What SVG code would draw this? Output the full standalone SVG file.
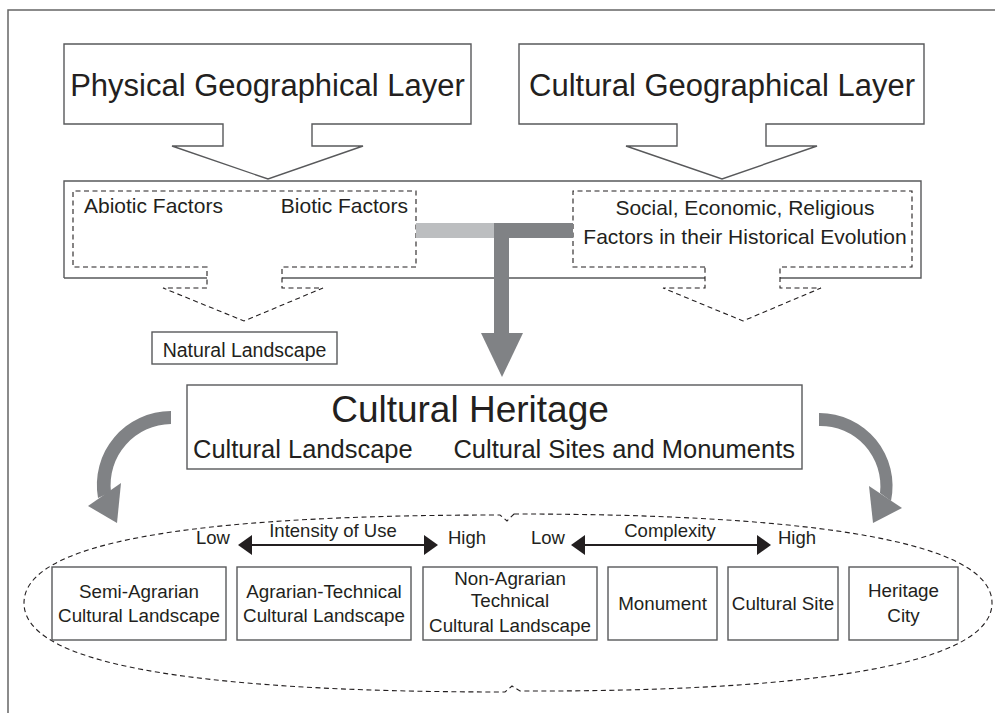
<svg xmlns="http://www.w3.org/2000/svg" width="995" height="713" viewBox="0 0 995 713">
<style>
text{font-family:"Liberation Sans",Arial,sans-serif;fill:#231f20}
.box{fill:#fff;stroke:#58595b;stroke-width:1.4}
.ln{fill:none;stroke:#58595b;stroke-width:1.4}
.dash{fill:none;stroke:#231f20;stroke-width:1.1;stroke-dasharray:5,3.5}
.g1{fill:#808285}
.g2{fill:#bcbec0}
.ar{stroke:#231f20;stroke-width:2}
.hd{fill:#231f20}
.big{font-size:31px}
.f21{font-size:21px}
.f19{font-size:18.8px}
.f18{font-size:18.5px}
.c{text-anchor:middle}
</style>
<rect width="995" height="713" fill="#fff"/>
<path d="M8,713 V10 H995" fill="none" stroke="#666" stroke-width="1.5"/>

<g id="physical-layer">
<path class="box" d="M64,44 H471 V124 H312 V146 H363 L268,179 L172,146 H223 V124 H64 Z"/>
<text class="big c" x="267.5" y="96">Physical Geographical Layer</text>
</g>

<g id="cultural-layer">
<path class="box" d="M519,44 H924 V124 H766 V146 H817 L722,179 L626,146 H677 V124 H519 Z"/>
<text class="big c" x="722" y="96">Cultural Geographical Layer</text>
</g>

<g id="factors">
<path class="ln" d="M64,278 V181 H921 V278 H780 M705,278 H282 M207,278 H64"/>
</g>

<g id="physical-factors">
<path class="dash" d="M207,267 H73 V191 H416 V267 H282 V288 H323 L244,321 L163,288 H207 Z"/>
<text class="f21" x="84" y="213">Abiotic Factors</text>
<text class="f21" x="408" y="213" text-anchor="end">Biotic Factors</text>
</g>

<g id="cultural-factors">
<path class="dash" d="M705,267 H573 V191 H912 V267 H780 V288 H821 L743,321 L663,288 H705 Z"/>
<text class="f21 c" x="745" y="215">Social, Economic, Religious</text>
<text class="f21 c" x="745" y="244">Factors in their Historical Evolution</text>
</g>

<g id="natural-landscape">
<rect class="box" x="152" y="332" width="185" height="32"/>
<text class="c" x="244.5" y="357" font-size="19.5">Natural Landscape</text>
</g>

<g id="cultural-heritage">
<rect class="box" x="187" y="385" width="615" height="84"/>
<text class="c" x="470" y="422" font-size="37">Cultural Heritage</text>
<text x="193" y="458" font-size="25.5">Cultural Landscape</text>
<text x="795" y="458" font-size="25.5" text-anchor="end">Cultural Sites and Monuments</text>
</g>

<g id="group-ellipse">
<path class="dash" d="M514,514 C827,514 992,544 992,603 C992,662 827,692 520,691 L512,686 L505,692 C181,692 24,662 24,603 C24,544 181,515 500,515 L507,521 Z"/>
</g>

<g id="semi-agrarian">
<rect class="box" x="52" y="567" width="174" height="73"/>
<text class="f19 c" x="139" y="598">Semi-Agrarian</text>
<text class="f19 c" x="139" y="622">Cultural Landscape</text>
</g>
<g id="agrarian-technical">
<rect class="box" x="237" y="567" width="174" height="73"/>
<text class="f19 c" x="324" y="598">Agrarian-Technical</text>
<text class="f19 c" x="324" y="622">Cultural Landscape</text>
</g>
<g id="non-agrarian">
<rect class="box" x="423" y="567" width="174" height="73"/>
<text class="f19 c" x="510" y="585">Non-Agrarian</text>
<text class="f19 c" x="510" y="607">Technical</text>
<text class="f19 c" x="510" y="632">Cultural Landscape</text>
</g>
<g id="monument">
<rect class="box" x="608" y="567" width="109" height="73"/>
<text class="f19 c" x="662.5" y="610">Monument</text>
</g>
<g id="cultural-site">
<rect class="box" x="728" y="567" width="110" height="73"/>
<text class="f19 c" x="783" y="610">Cultural Site</text>
</g>
<g id="heritage-city">
<rect class="box" x="849" y="567" width="109" height="73"/>
<text class="f19 c" x="903.5" y="597">Heritage</text>
<text class="f19 c" x="903.5" y="622">City</text>
</g>

<g id="scales">
<text class="f18" x="230" y="544" text-anchor="end">Low</text>
<text class="f18 c" x="333" y="537">Intensity of Use</text>
<text class="f18" x="448" y="544">High</text>
<text class="f18" x="565" y="544" text-anchor="end">Low</text>
<text class="f18 c" x="670" y="537">Complexity</text>
<text class="f18" x="778" y="544">High</text>
</g>

<g id="connectors">
<rect class="g2" x="416" y="223" width="78" height="15"/>
<rect class="g1" x="494" y="223" width="79" height="15"/>
<rect class="g1" x="494" y="223" width="15" height="111"/>
<polygon class="g1" points="481,333 523,333 502,377"/>
<path class="g1" d="M171,411 A74,74 0 0 0 98,498 L111,492 A61,61 0 0 1 171,424 Z"/>
<polygon class="g1" points="88,506 121,483 117,523"/>
<path class="g1" d="M819,413 A73,73 0 0 1 891,501 L880,493 A60,60 0 0 0 819,426 Z"/>
<polygon class="g1" points="869,486 902,508 873,523"/>
<line class="ar" x1="250" y1="545" x2="426" y2="545"/>
<polygon class="hd" points="238,545 252,535 252,555"/>
<polygon class="hd" points="438,545 424,535 424,555"/>
<line class="ar" x1="583" y1="545" x2="759" y2="545"/>
<polygon class="hd" points="571,545 585,535 585,555"/>
<polygon class="hd" points="771,545 757,535 757,555"/>
</g>
</svg>
